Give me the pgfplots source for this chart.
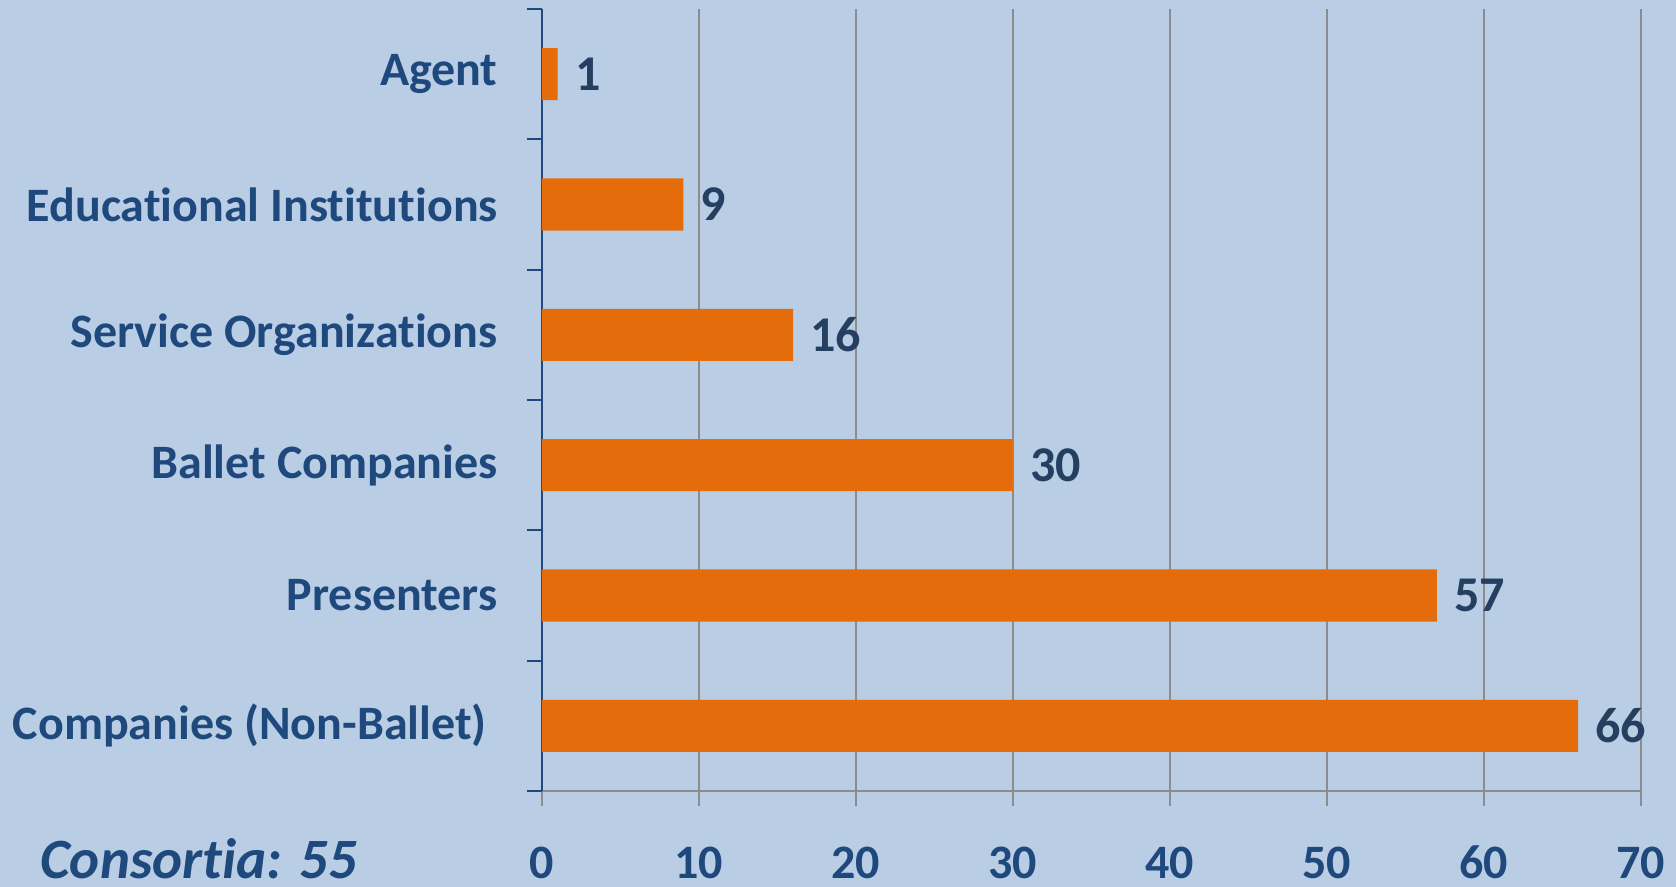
\documentclass[border=0pt]{standalone}
\usepackage{pgfplots}
\pgfplotsset{compat=1.18}
\usepackage{fontspec}
\setmainfont{Carlito}[Ligatures=NoCommon]
\definecolor{bg}{HTML}{B9CDE5}
\definecolor{navy}{HTML}{1F497D}
\definecolor{valc}{HTML}{243F60}
\definecolor{barc}{HTML}{E46C0A}
\definecolor{gridc}{HTML}{8C8C8C}
\begin{document}
\begin{tikzpicture}[x=1pt,y=1pt]
\fill[bg] (-271,-48) rectangle (567,395.5);
\begin{axis}[at={(0,0)}, anchor=south west, scale only axis,
  width=549.5pt, height=391pt,
  xbar, bar width=0.4,
  xmin=0, xmax=70, ymin=-0.5, ymax=5.5,
  axis x line=bottom, axis y line=left,
  x axis line style={-, draw=gridc, line width=1pt},
  y axis line style={-, draw=navy, line width=1pt},
  xtick={0,10,...,70},
  ytick={0,...,5},
  yticklabels={Companies (Non-Ballet)\hspace*{0.226em},Presenters,Ballet Companies,Service Organizations,Educational Institutions,Agent},
  minor ytick={-0.5,0.5,...,5.5},
  tick align=outside,
  major tick length=7.5pt, minor tick length=7.5pt,
  major x tick style={draw=gridc, line width=1pt},
  major y tick style={draw=none},
  minor y tick style={draw=navy, line width=1pt},
  xmajorgrids, major grid style={draw=gridc, line width=1pt},
  xticklabel style={font=\bfseries\fontsize{24}{24}\selectfont, text=navy, anchor=base, inner sep=0pt, yshift=-36.5pt},
  yticklabel style={font=\bfseries\fontsize{24}{24}\selectfont, text=navy, anchor=east, inner sep=0pt, xshift=-14.5pt},
  /pgf/number format/assume math mode=true,
  nodes near coords,
  nodes near coords style={font=\bfseries\fontsize{25}{25}\selectfont, text=valc, anchor=west, inner sep=0pt, xshift=8.5pt},
  clip=false,
]
\addplot[fill=barc, draw=none] coordinates {(66,0) (57,1) (30,2) (16,3) (9,4) (1,5)};
\end{axis}
\node[anchor=base west, inner sep=0pt, font=\bfseries\itshape\fontsize{28.5}{28.5}\selectfont, text=navy] at (-251,-44) {Consortia: 55};
\end{tikzpicture}
\end{document}
